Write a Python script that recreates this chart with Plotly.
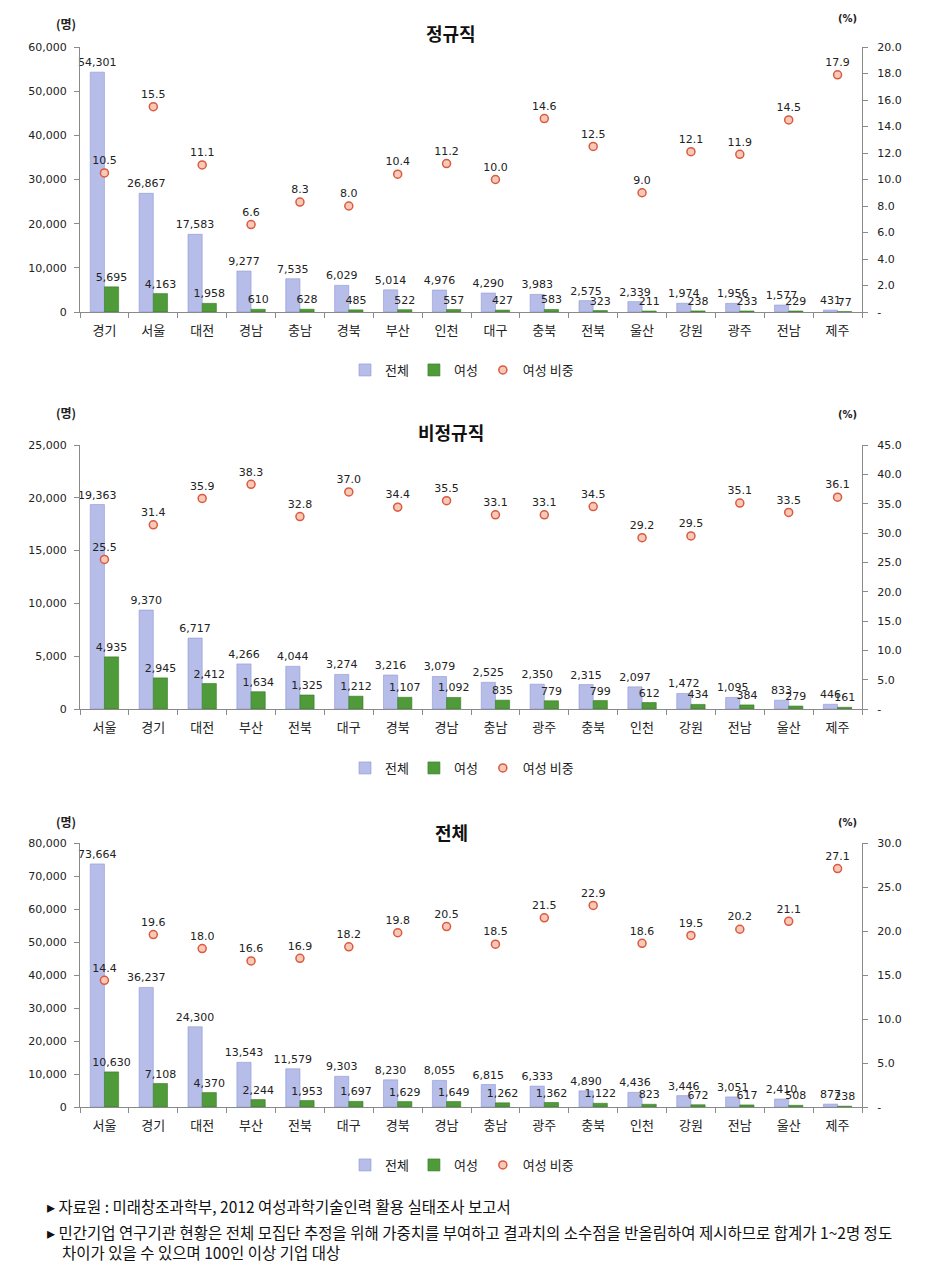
import plotly.graph_objects as go

# ---------------- data ----------------
titles = ["정규직", "비정규직", "전체"]

cat1 = ["경기", "서울", "대전", "경남", "충남", "경북", "부산", "인천", "대구", "충북", "전북", "울산", "강원", "광주", "전남", "제주"]
tot1 = [54301, 26867, 17583, 9277, 7535, 6029, 5014, 4976, 4290, 3983, 2575, 2339, 1974, 1956, 1577, 431]
fem1 = [5695, 4163, 1958, 610, 628, 485, 522, 557, 427, 583, 323, 211, 238, 233, 229, 77]
pct1 = [10.5, 15.5, 11.1, 6.6, 8.3, 8.0, 10.4, 11.2, 10.0, 14.6, 12.5, 9.0, 12.1, 11.9, 14.5, 17.9]

cat2 = ["서울", "경기", "대전", "부산", "전북", "대구", "경북", "경남", "충남", "광주", "충북", "인천", "강원", "전남", "울산", "제주"]
tot2 = [19363, 9370, 6717, 4266, 4044, 3274, 3216, 3079, 2525, 2350, 2315, 2097, 1472, 1095, 833, 446]
fem2 = [4935, 2945, 2412, 1634, 1325, 1212, 1107, 1092, 835, 779, 799, 612, 434, 384, 279, 161]
pct2 = [25.5, 31.4, 35.9, 38.3, 32.8, 37.0, 34.4, 35.5, 33.1, 33.1, 34.5, 29.2, 29.5, 35.1, 33.5, 36.1]

cat3 = ["서울", "경기", "대전", "부산", "전북", "대구", "경북", "경남", "충남", "광주", "충북", "인천", "강원", "전남", "울산", "제주"]
tot3 = [73664, 36237, 24300, 13543, 11579, 9303, 8230, 8055, 6815, 6333, 4890, 4436, 3446, 3051, 2410, 877]
fem3 = [10630, 7108, 4370, 2244, 1953, 1697, 1629, 1649, 1262, 1362, 1122, 823, 672, 617, 508, 238]
pct3 = [14.4, 19.6, 18.0, 16.6, 16.9, 18.2, 19.8, 20.5, 18.5, 21.5, 22.9, 18.6, 19.5, 20.2, 21.1, 27.1]

left_max = [60000, 25000, 80000]
left_dtick = [10000, 5000, 10000]
right_max = [20, 45, 30]
right_dtick = [2, 5, 5]

series_names = ["전체", "여성", "여성 비중"]
footnotes = [
    "▸ 자료원 : 미래창조과학부, 2012 여성과학기술인력 활용 실태조사 보고서",
    "▸ 민간기업 연구기관 현황은 전체 모집단 추정을 위해 가중치를 부여하고 결과치의 소수점을 반올림하여 제시하므로 합계가 1~2명 정도",
    "차이가 있을 수 있으며 100인 이상 기업 대상",
]

# ---------------- layout geometry ----------------
PAGE_OFF = 8                      # default body margin of the page
W, H = 929 - 2 * PAGE_OFF, 1273 - 2 * PAGE_OFF

def px(p):
    return (p - PAGE_OFF) / W

def py(p):
    return 1 - (p - PAGE_OFF) / H

panels_px = [(47, 312), (445, 709), (843, 1107)]
legend_px = [370, 768, 1165]
title_px = [33, 432, 832]
unit_px = [(23, 18), (413, 415), (821, 822)]
x0, x1 = px(80), px(862)

NUM_FONT = "DejaVu Sans"
KR_FONT = "Noto Sans CJK KR"
c_tot = "#b6bde9"
c_tot_line = "#8e97d6"
c_fem = "#4f9a39"
c_fem_line = "#357a24"

fig = go.Figure()
data = [(cat1, tot1, fem1, pct1), (cat2, tot2, fem2, pct2), (cat3, tot3, fem3, pct3)]

layout = dict(
    width=W, height=H, margin=dict(l=0, r=0, t=0, b=0, autoexpand=False),
    paper_bgcolor="white", plot_bgcolor="white",
    barmode="group", bargap=0.42, bargroupgap=0.0,
    font=dict(family=NUM_FONT, size=11, color="#222"),
    annotations=[],
)

for i, (cats, tot, fem, pct) in enumerate(data):
    n = i + 1
    xa = "x" if n == 1 else f"x{n}"
    ya = f"y{2*n-1}" if n > 1 else "y"
    yb = f"y{2*n}"
    leg = "legend" if n == 1 else f"legend{n}"

    fig.add_trace(go.Bar(
        x=cats, y=tot, name=series_names[0], xaxis=xa, yaxis=ya, legend=leg,
        marker=dict(color=c_tot, line=dict(color=c_tot_line, width=0.6)),
        text=[f"{v:,}" for v in tot], textposition="outside", textangle=0,
        constraintext="none", cliponaxis=False,
        textfont=dict(family=NUM_FONT, size=11, color="#222"),
        offsetgroup="a",
    ))
    fig.add_trace(go.Bar(
        x=cats, y=fem, name=series_names[1], xaxis=xa, yaxis=ya, legend=leg,
        marker=dict(color=c_fem, line=dict(color=c_fem_line, width=0.6)),
        text=[f"{v:,}" for v in fem], textposition="outside", textangle=0,
        constraintext="none", cliponaxis=False,
        textfont=dict(family=NUM_FONT, size=11, color="#222"),
        offsetgroup="b",
    ))
    fig.add_trace(go.Scatter(
        x=cats, y=pct, name=series_names[2], xaxis=xa, yaxis=yb, legend=leg,
        mode="markers+text", text=[f"{v:.1f}" for v in pct],
        textposition="top center", cliponaxis=False,
        textfont=dict(family=NUM_FONT, size=11, color="#222"),
        marker=dict(size=8, color="#f8c9b8", line=dict(color="#d95a3e", width=1.5)),
    ))

    top, bot = panels_px[i]
    dom = [py(bot), py(top)]
    xkey = "xaxis" if n == 1 else f"xaxis{n}"
    yakey = "yaxis" if n == 1 else f"yaxis{2*n-1}"
    ybkey = f"yaxis{2*n}"
    layout[xkey] = dict(
        domain=[x0, x1], anchor=ya, type="category", automargin=False,
        range=[-0.5, len(cats) - 0.5], autorange=False,
        showline=True, linecolor="#8a8a8a", linewidth=1,
        ticks="outside", tickson="boundaries", ticklen=5, tickcolor="#8a8a8a",
        tickfont=dict(family=KR_FONT, size=13, color="#222"),
        ticklabelstandoff=6,
        showgrid=False, fixedrange=True,
    )
    lt = list(range(0, left_max[i] + 1, left_dtick[i]))
    layout[yakey] = dict(
        domain=dom, anchor=xa, range=[0, left_max[i]], automargin=False,
        tickvals=lt, ticktext=[f"{v:,}" for v in lt],
        showline=True, linecolor="#8a8a8a", linewidth=1,
        ticks="outside", ticklen=5, tickcolor="#8a8a8a",
        ticklabelstandoff=5,
        showgrid=False, zeroline=False,
        tickfont=dict(family=NUM_FONT, size=11, color="#222"),
    )
    rt = [k * right_dtick[i] for k in range(int(right_max[i] / right_dtick[i]) + 1)]
    layout[ybkey] = dict(
        domain=dom, anchor=xa, overlaying=ya, side="right", range=[0, right_max[i]],
        automargin=False,
        tickvals=rt, ticktext=["-" if v == 0 else f"{v:.1f}" for v in rt],
        showline=True, linecolor="#8a8a8a", linewidth=1,
        ticks="outside", ticklen=5, tickcolor="#8a8a8a",
        ticklabelstandoff=7,
        showgrid=False, zeroline=False,
        tickfont=dict(family=NUM_FONT, size=11, color="#222"),
    )
    layout[leg] = dict(
        orientation="h", x=px(462), xanchor="center", y=py(legend_px[i]), yanchor="middle",
        font=dict(family=KR_FONT, size=13, color="#222"), bgcolor="rgba(0,0,0,0)",
        itemwidth=30, tracegroupgap=0,
    )
    layout["annotations"] += [
        dict(text=f"<b>{titles[i]}</b>", x=px(451), y=py(title_px[i]), xref="paper", yref="paper",
             showarrow=False, xanchor="center", yanchor="middle",
             font=dict(family=KR_FONT, size=18, color="#111")),
        dict(text="<b>(명)</b>", x=px(66), y=py(unit_px[i][0]), xref="paper", yref="paper",
             showarrow=False, xanchor="center", yanchor="middle",
             font=dict(family=KR_FONT, size=12, color="#222")),
        dict(text="<b>(%)</b>", x=px(847), y=py(unit_px[i][1]), xref="paper", yref="paper",
             showarrow=False, xanchor="center", yanchor="middle",
             font=dict(family=NUM_FONT, size=10, color="#222")),
    ]

foot_pos = [(45, 1206), (45, 1232), (60, 1252)]
for txt, (xx, yy) in zip(footnotes, foot_pos):
    layout["annotations"].append(dict(
        text=txt, x=px(xx), y=py(yy), xref="paper", yref="paper", showarrow=False,
        xanchor="left", yanchor="middle", font=dict(family=KR_FONT, size=15.5, color="#111"),
    ))

fig.update_layout(**layout)
fig.write_html("out.html")
